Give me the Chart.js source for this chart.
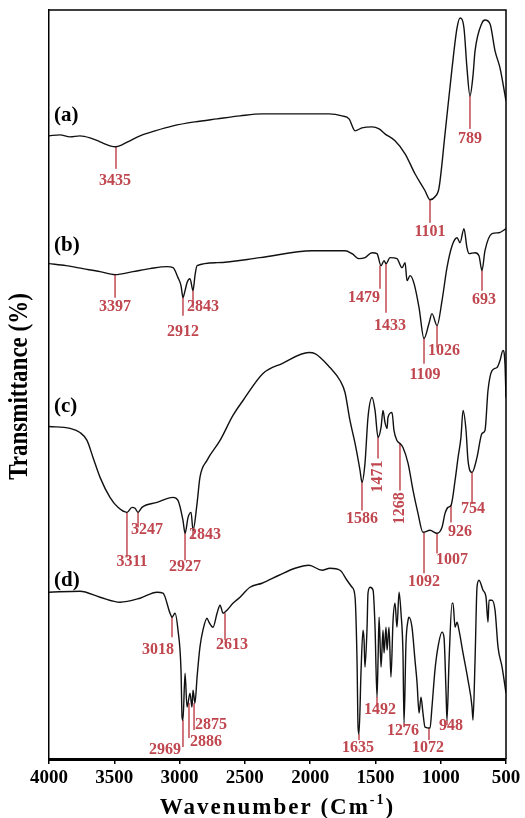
<!DOCTYPE html>
<html>
<head>
<meta charset="utf-8">
<script src="https://cdn.jsdelivr.net/npm/chart.js@4.4.1/dist/chart.umd.min.js"></script>
<style>
  body { margin: 0; background: #fff; }
  #wrap { width: 525px; height: 818px; }
</style>
</head>
<body>
<div id="wrap"><canvas id="myChart"></canvas></div>
<script>
// spectra, wavenumber (cm-1) and stacked transmittance (arbitrary offset units)
let wnA = [4000,3916,3839,3763,3686,3609,3533,3487,3441,3380,3303,3188,3050,2882,2713,2537,2369,2078,1855,1756,1702,1656,1603,1526,1472,1427,1350,1273,1197,1120,1082,1044,1013,967,913,875,852,822,799,776,753,737,684,661,622,584,546,500]
let trA = [124.8,125.0,124.6,124.8,124.4,123.6,122.8,122.6,123.0,123.8,124.8,125.8,126.8,127.6,128.2,128.8,129.2,129.2,129.2,128.8,128.2,125.8,126.4,126.6,126.2,125.2,123.8,121.2,117.2,113.8,112.0,112.6,114.4,125.2,138.4,146.4,148.4,146.4,138.4,132.8,136.8,141.8,147.4,148.0,147.2,141.8,138.4,131.8]

let wnB = [4000,3870,3740,3609,3494,3357,3226,3096,3050,3012,2989,2974,2958,2943,2920,2897,2882,2866,2713,2384,1986,1733,1679,1626,1580,1526,1488,1457,1434,1419,1388,1335,1296,1273,1258,1235,1204,1166,1128,1090,1067,1028,990,952,913,875,852,822,799,783,737,707,684,661,607,553,500]
let trB = [99.2,98.8,98.2,97.6,97.0,97.6,98.2,98.6,98.4,96.4,94.8,92.4,93.8,95.4,96.2,93.8,96.8,98.8,99.4,100.4,101.8,101.8,101.2,100.2,100.4,101.4,101.2,98.8,99.8,99.2,100.4,100.2,98.4,99.4,95.8,96.8,95.2,90.4,84.2,87.2,89.2,86.8,91.8,98.4,102.8,104.4,103.4,106.2,102.4,101.2,101.4,100.8,97.8,101.8,105.2,105.4,106.2]

let wnC = [4000,3839,3763,3709,3663,3609,3533,3472,3403,3364,3341,3318,3288,3173,3050,3012,2974,2958,2935,2912,2897,2866,2844,2790,2690,2591,2514,2361,2215,2009,1963,1848,1771,1733,1695,1656,1618,1603,1580,1557,1526,1503,1480,1457,1442,1427,1411,1404,1373,1358,1335,1312,1289,1250,1212,1174,1136,1082,1028,990,967,944,921,890,867,845,829,806,791,760,722,684,661,638,607,569,546,523,508,500]
let trC = [66.6,66.2,65.4,63.8,60.4,56.4,52.4,50.4,49.4,50.4,50.2,49.4,50.4,51.4,52.4,51.8,47.8,45.2,48.4,49.4,45.8,51.2,56.4,59.8,63.8,68.8,71.8,77.2,79.2,81.4,81.2,78.4,75.8,73.4,67.8,63.2,57.8,55.4,59.2,68.4,72.4,69.8,64.4,66.4,69.8,67.4,66.2,68.4,69.4,65.8,63.8,63.2,62.4,59.2,53.8,49.2,45.4,45.8,45.2,46.4,49.2,50.4,50.8,55.8,60.4,64.4,69.8,65.8,59.8,57.4,60.4,65.2,65.8,73.8,77.8,78.4,79.8,81.8,79.2,72.4]

let wnD = [4000,3763,3609,3456,3303,3173,3127,3073,3058,3035,3012,2989,2981,2974,2958,2943,2935,2920,2905,2897,2882,2866,2844,2821,2790,2775,2744,2713,2690,2667,2637,2591,2537,2461,2369,2238,2116,2009,1909,1848,1771,1718,1679,1656,1641,1633,1626,1610,1595,1587,1580,1564,1557,1541,1518,1503,1488,1480,1472,1457,1442,1434,1419,1411,1396,1381,1365,1350,1335,1319,1304,1289,1281,1266,1250,1243,1220,1197,1181,1166,1151,1136,1120,1082,1067,1044,1021,990,975,959,952,936,913,906,890,875,860,829,791,760,753,737,722,707,676,653,638,630,607,584,561,530,500]
let trD = [33.4,33.6,32.4,31.4,32.2,33.4,33.2,29.2,28.4,29.2,25.8,17.8,8.4,7.8,17.2,10.4,11.2,13.2,10.4,13.8,11.2,16.4,22.4,25.8,28.2,27.4,26.4,29.2,30.8,29.2,29.8,31.2,32.4,34.4,35.2,36.8,38.2,38.8,37.8,38.2,37.8,35.8,34.4,32.4,19.8,6.4,5.0,17.8,25.8,23.8,18.4,26.4,33.2,34.4,33.8,26.4,12.4,19.8,28.4,18.4,25.8,21.2,26.4,21.8,26.4,16.4,27.8,31.2,26.4,33.4,29.2,21.2,7.2,23.2,27.8,28.4,26.4,19.8,15.2,9.2,12.4,9.2,6.4,6.2,10.4,17.8,22.4,25.4,24.4,13.2,7.8,19.8,31.2,31.2,26.4,27.4,25.8,21.2,15.8,10.4,7.8,19.8,34.4,35.8,33.8,32.4,27.4,31.8,31.8,29.8,22.4,18.4,13.2]

let panelNames = ["(a)", "(b)", "(c)", "(d)"]
let panelTr = [128.8, 102.8, 70.6, 35.8]

// peak markers: text, line wavenumber, line start/end, label spot
let peakText  = ["3435","1101","789", "3397","2912","2843","1479","1433","1109","1026","693", "3311","3247","2927","2843","1586","1471","1268","1092","1007","926","754", "3018","2613","2969","2886","2875","1635","1492","1276","1072","948"]
let peakWn    = [3487,1082,776, 3494,2974,2897,1465,1419,1128,1028,684, 3403,3318,2958,2897,1603,1480,1312,1128,1028,921,760, 3058,2652,2974,2928,2889,1626,1488,1281,1090,952]
let peakFrom  = [122.6,112.0,132.8, 97.0,92.4,93.8,98.8,99.2,84.2,86.8,97.8, 49.4,49.4,45.2,45.8,55.4,64.4,63.2,45.4,45.2,50.8,57.4, 28.4,29.2,7.8,11.2,11.2,5.0,12.4,7.2,6.2,7.8]
let peakTo    = [118.2,107.4,126.2, 92.4,88.8,90.4,94.2,89.4,79.2,82.4,93.8, 40.4,46.4,39.8,44.2,49.8,60.2,53.8,37.2,41.2,47.4,51.2, 24.4,23.8,2.4,4.2,5.8,3.8,10.4,6.4,3.8,6.8]
let labelWn   = [3494,1082,776, 3494,2974,2821,1587,1388,1120,975,668, 3364,3249,2958,2805,1603,1480,1312,1128,913,852,753, 3165,2598,3112,2798,2759,1633,1465,1289,1097,921]
let labelTr   = [115.8,105.6,124.2, 90.6,85.6,90.6,92.4,86.8,77.0,81.8,92.0, 39.4,45.8,38.4,44.8,48.0,56.6,50.2,35.4,39.8,45.4,50.0, 21.8,22.8,1.8,3.4,6.8,2.2,9.8,5.6,2.2,6.6]
let labelTurn = ["1471", "1268"]

let xTicks = [4000, 3500, 3000, 2500, 2000, 1500, 1000, 500]

const serif = '"Liberation Serif", "Times New Roman", serif'
const peakColor = "#c0474f"

function spectrum(wn, tr) {
    return {
        data: wn.map((w, i) => ({x: w, y: tr[i]})),
        borderColor: "#111",
        borderWidth: 1.4,
        pointRadius: 0,
        cubicInterpolationMode: "monotone",
        order: 0
    }
}

let datasets = [spectrum(wnA, trA), spectrum(wnB, trB), spectrum(wnC, trC), spectrum(wnD, trD)]
peakWn.forEach((w, i) => {
    datasets.push({
        data: [{x: w, y: peakFrom[i]}, {x: w, y: peakTo[i]}],
        borderColor: "#c9646b",
        borderWidth: 1,
        pointRadius: 0,
        order: 1
    })
})

const decorations = {
    id: "decorations",
    afterDraw(chart) {
        const {ctx, chartArea: a, scales: {x, y}} = chart
        ctx.save()
        ctx.strokeStyle = "#000"
        ctx.lineWidth = 1.5
        ctx.beginPath()
        ctx.moveTo(a.left, a.top)
        ctx.lineTo(a.right, a.top)
        ctx.lineTo(a.right, a.bottom)
        ctx.stroke()

        // peak labels
        ctx.fillStyle = peakColor
        ctx.font = "bold 16px " + serif
        ctx.textAlign = "center"
        ctx.textBaseline = "middle"
        peakText.forEach((t, i) => {
            ctx.save()
            ctx.translate(x.getPixelForValue(labelWn[i]), y.getPixelForValue(labelTr[i]))
            if (labelTurn.includes(t) && labelWn[i] < 1500) ctx.rotate(-Math.PI / 2)
            ctx.fillText(t, 0, 0)
            ctx.restore()
        })

        // panel letters
        ctx.fillStyle = "#000"
        ctx.font = "bold 21px " + serif
        ctx.textAlign = "left"
        panelNames.forEach((n, i) => {
            ctx.fillText(n, a.left + 5, y.getPixelForValue(panelTr[i]))
        })

        // y title
        ctx.save()
        ctx.translate(20, (a.top + a.bottom) / 2 + 2)
        ctx.rotate(-Math.PI / 2)
        ctx.scale(1, 1.2)
        ctx.textAlign = "center"
        ctx.font = "bold 23px " + serif
        ctx.fillText("Transmittance (%)", 0, 0)
        ctx.restore()

        // x title with superscript
        ctx.letterSpacing = "2px"
        ctx.font = "bold 23px " + serif
        let main = "Wavenumber (Cm", tail = ")"
        let wMain = ctx.measureText(main).width
        let wTail = ctx.measureText(tail).width
        ctx.font = "bold 14px " + serif
        let wSup = ctx.measureText("-1").width
        let sx = (a.left + a.right) / 2 - (wMain + wSup + wTail) / 2
        let ty = 808
        ctx.textAlign = "left"
        ctx.font = "bold 23px " + serif
        ctx.fillText(main, sx, ty)
        ctx.font = "bold 14px " + serif
        ctx.fillText("-1", sx + wMain, ty - 8)
        ctx.font = "bold 23px " + serif
        ctx.fillText(tail, sx + wMain + wSup, ty)
        ctx.restore()
    }
}

let ctx = document.getElementById("myChart").getContext("2d")
let myChart = new Chart(ctx, {
    type: "line",
    data: { datasets: datasets },
    plugins: [decorations],
    options: {
        responsive: true,
        maintainAspectRatio: false,
        animation: false,
        layout: { padding: { top: 10, right: 19, left: 0, bottom: 0 } },
        plugins: { legend: { display: false }, tooltip: { enabled: false } },
        scales: {
            x: {
                type: "linear",
                reverse: true,
                min: 500,
                max: 4000,
                afterFit: (s) => { s.height = 59 },
                afterBuildTicks: (s) => { s.ticks = xTicks.map(v => ({value: v})) },
                ticks: {
                    color: "#000",
                    padding: 3,
                    maxRotation: 0,
                    callback: (v) => String(v),
                    font: { family: serif, size: 19, weight: "bold" }
                },
                grid: { drawOnChartArea: false, color: "#000", lineWidth: 1.5, tickLength: 5 },
                border: { color: "#000", width: 3 }
            },
            y: {
                min: 0,
                max: 150,
                afterFit: (s) => { s.width = 49 },
                ticks: { display: false },
                grid: { display: false },
                border: { color: "#000", width: 1.5 }
            }
        }
    }
})
</script>
</body>
</html>
